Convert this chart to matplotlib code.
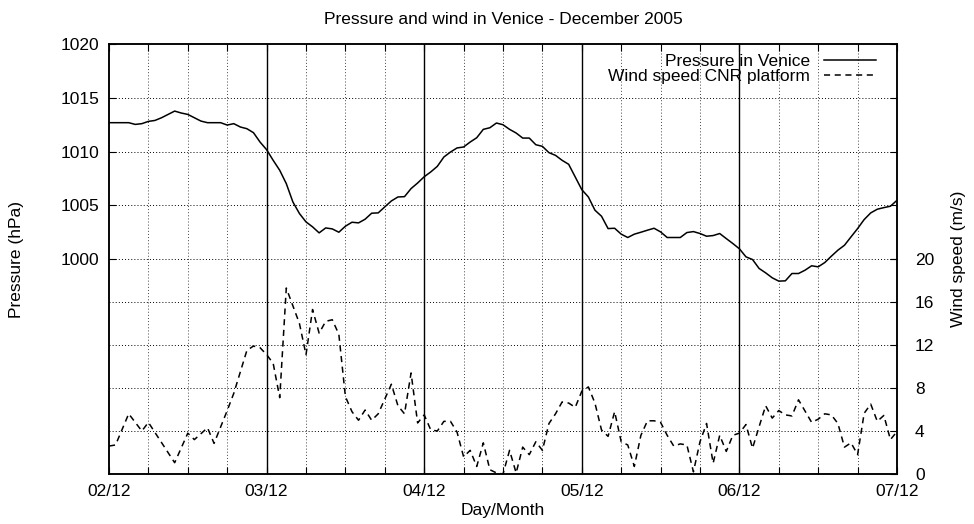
import matplotlib
matplotlib.use("Agg")
import matplotlib.pyplot as plt
import numpy as np

plt.rcParams['font.family'] = ['Liberation Sans', 'DejaVu Sans']

day_labels = ["02/12", "03/12", "04/12", "05/12", "06/12", "07/12"]

# hourly pressure in Venice (hPa), from 02/12 00:00 to 07/12 00:00
pressure = [
    1012.68, 1012.68, 1012.68, 1012.68, 1012.52, 1012.59, 1012.80, 1012.89, 1013.14, 1013.45,
    1013.76, 1013.58, 1013.45, 1013.14, 1012.83, 1012.68, 1012.68, 1012.68, 1012.46, 1012.59,
    1012.28, 1012.12, 1011.75, 1010.88, 1010.17,
    1009.18, 1008.25, 1007.01, 1005.31, 1004.23, 1003.45, 1002.99, 1002.43, 1002.89, 1002.80,
    1002.49, 1003.05, 1003.42, 1003.36, 1003.70, 1004.26, 1004.29, 1004.85, 1005.40, 1005.77,
    1005.80, 1006.55, 1007.07, 1007.65,
    1008.10, 1008.62, 1009.49, 1009.95, 1010.33, 1010.42, 1010.88, 1011.28, 1012.06, 1012.21,
    1012.65, 1012.49, 1012.06, 1011.72, 1011.25, 1011.25, 1010.63, 1010.48, 1009.89, 1009.64,
    1009.18, 1008.81, 1007.63, 1006.45,
    1005.77, 1004.54, 1003.98, 1002.83, 1002.86, 1002.31, 1002.00, 1002.31, 1002.49, 1002.68,
    1002.86, 1002.52, 1002.00, 1002.00, 1002.00, 1002.46, 1002.55, 1002.37, 1002.12, 1002.18,
    1002.37, 1001.90, 1001.44, 1000.95,
    1000.20, 999.95, 999.12, 998.71, 998.25, 997.94, 997.97, 998.65, 998.65, 998.96,
    999.37, 999.27, 999.67, 1000.26, 1000.82, 1001.28, 1002.06, 1002.83, 1003.67, 1004.29,
    1004.63, 1004.78, 1004.91, 1005.46,
]

# wind speed at the CNR platform (m/s)
wind_hours = [0, 1, 3, 5, 6, 10, 12, 13, 15, 16, 18, 19, 21, 22, 23, 24, 25, 26, 27, 29,
              30, 31, 32, 33, 34, 35, 36, 37, 38, 39, 40, 41, 43, 44, 45, 46] + list(range(47, 121))
wind_speed = [2.6, 2.7, 5.6, 4.0, 4.8, 1.05, 3.8, 3.2, 4.3, 2.85, 5.9, 7.5, 11.5, 11.9, 11.75, 11.1,
              10.3, 7.1, 17.3, 14.0, 11.1, 15.3, 13.1, 14.2, 14.35, 13.0, 7.2, 5.8, 5.0, 5.95, 5.0,
              5.6, 8.35, 6.35, 5.6, 9.4,
              4.75, 5.5, 4.1, 4.0, 4.9, 4.9, 3.9, 1.6, 2.2, 0.7, 2.9, 0.4, 0.1, 0.0,
              2.2, 0.1, 2.5, 1.8, 3.0, 2.2, 4.7, 5.6, 6.7, 6.6, 6.2, 7.7, 8.1, 6.6,
              4.1, 3.5, 5.8, 3.0, 2.7, 0.7, 3.6, 4.95, 4.95, 4.8, 3.6, 2.6, 2.8, 2.7,
              0.2, 3.0, 4.7, 1.0, 3.6, 2.1, 3.6, 3.8, 4.6, 2.4, 4.4, 6.35, 5.2, 5.9,
              5.5, 5.4, 6.9, 5.85, 4.8, 5.1, 5.6, 5.5, 4.7, 2.5, 2.9, 1.8, 5.65, 6.5,
              4.9, 5.45, 3.2, 3.95]

hours = np.arange(len(pressure))
fs = 12.5
dot = (0, (1, 2.2))

fig = plt.figure(figsize=(9.74, 5.24), dpi=100)
ax = fig.add_axes([109/974, 1 - 474/524, 788/974, 430/524])
ax2 = ax.twinx()

# grid
for h in range(6, 120, 6):
    if h % 24:
        ax.axvline(h, color='#444444', lw=0.7, ls=dot, zorder=1)
    else:
        ax.axvline(h, color='black', lw=1.0, zorder=1)
for p in [1000, 1005, 1010, 1015]:
    ax.axhline(p, color='black', lw=0.7, ls=dot, zorder=1)
for w in [4, 8, 12, 16]:
    ax2.axhline(w, color='black', lw=0.7, ls=dot, zorder=1)

lp, = ax.plot(hours, pressure, color='black', lw=1.1, label='Pressure in Venice')
lw_, = ax2.plot(wind_hours, wind_speed, color='black', lw=1.1, ls=(0, (4, 3)),
                label='Wind speed CNR platform')

ax.set_xlim(0, 120)
ax.set_ylim(980, 1020)
ax2.set_ylim(0, 40)

ax.set_xticks(np.arange(0, 121, 24))
ax.set_xticklabels(day_labels)
ax.set_xticks(np.arange(0, 121, 6), minor=True)
ax.set_yticks([1000, 1005, 1010, 1015, 1020])
ax2.set_yticks([0, 4, 8, 12, 16, 20])

ax.tick_params(axis='x', which='both', direction='in', top=True, length=5, width=0.8,
               labelsize=fs, pad=7)
ax.tick_params(axis='y', direction='in', right=True, length=5, width=0.8, labelsize=fs, pad=7)
ax2.tick_params(axis='y', direction='in', length=5, width=0.8, labelsize=fs, pad=13)

for a in (ax, ax2):
    for s in a.spines.values():
        s.set_linewidth(1.1)

fig.text(503/974, 1 - 19/524, 'Pressure and wind in Venice - December 2005',
         ha='center', va='center', fontsize=fs)
fig.text(503/974, 1 - 511/524, 'Day/Month', ha='center', va='center', fontsize=fs)
fig.text(17/974, 1 - 259/524, 'Pressure (hPa)', ha='center', va='center', rotation=90,
         fontsize=fs)
fig.text(958/974, 1 - 259/524, 'Wind speed (m/s)', ha='center', va='center', rotation=90,
         fontsize=fs)

ax2.legend(handles=[lp, lw_], loc='upper right', frameon=False, markerfirst=False,
           fontsize=12.5, handlelength=3.0, handletextpad=0.8, labelspacing=0.0,
           borderaxespad=0, borderpad=0,
           bbox_to_anchor=(876/974, 1 - 54/524), bbox_transform=fig.transFigure)

fig.savefig('out.png', dpi=100)
